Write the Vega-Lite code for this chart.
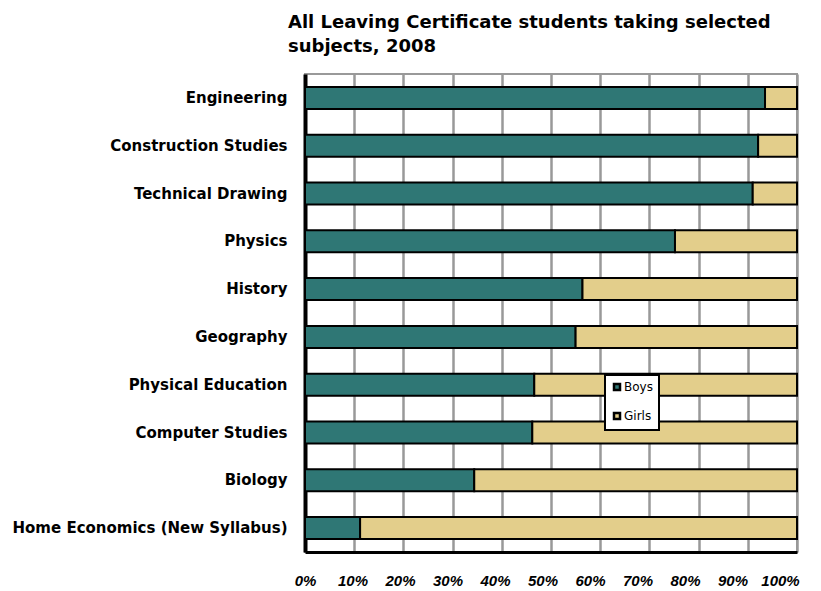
{
  "$schema": "https://vega.github.io/schema/vega-lite/v6.json",
  "autosize": {"type": "none"},
  "padding": {"left": 305, "top": 74, "right": 24, "bottom": 39},
  "width": 492,
  "height": 478,
  "background": "white",
  "title": {
    "text": ["All Leaving Certificate students taking selected", "subjects, 2008"],
    "anchor": "start",
    "frame": "group",
    "dx": -17,
    "offset": 18,
    "font": "DejaVu Sans",
    "fontSize": 18,
    "fontWeight": "bold",
    "lineHeight": 24,
    "color": "black"
  },
  "config": {
    "view": {"stroke": "#999999", "strokeWidth": 2},
    "font": "DejaVu Sans"
  },
  "data": {
    "values": [
      {"subject": "Engineering", "sex": "Boys", "pct": 93.5},
      {"subject": "Engineering", "sex": "Girls", "pct": 6.5},
      {"subject": "Construction Studies", "sex": "Boys", "pct": 92.1},
      {"subject": "Construction Studies", "sex": "Girls", "pct": 7.9},
      {"subject": "Technical Drawing", "sex": "Boys", "pct": 91.0},
      {"subject": "Technical Drawing", "sex": "Girls", "pct": 9.0},
      {"subject": "Physics", "sex": "Boys", "pct": 75.2},
      {"subject": "Physics", "sex": "Girls", "pct": 24.8},
      {"subject": "History", "sex": "Boys", "pct": 56.4},
      {"subject": "History", "sex": "Girls", "pct": 43.6},
      {"subject": "Geography", "sex": "Boys", "pct": 55.0},
      {"subject": "Geography", "sex": "Girls", "pct": 45.0},
      {"subject": "Physical Education", "sex": "Boys", "pct": 46.6},
      {"subject": "Physical Education", "sex": "Girls", "pct": 53.4},
      {"subject": "Computer Studies", "sex": "Boys", "pct": 46.2},
      {"subject": "Computer Studies", "sex": "Girls", "pct": 53.8},
      {"subject": "Biology", "sex": "Boys", "pct": 34.4},
      {"subject": "Biology", "sex": "Girls", "pct": 65.6},
      {"subject": "Home Economics (New Syllabus)", "sex": "Boys", "pct": 11.2},
      {"subject": "Home Economics (New Syllabus)", "sex": "Girls", "pct": 88.8}
    ]
  },
  "mark": {"type": "bar", "stroke": "black", "strokeWidth": 2},
  "encoding": {
    "y": {
      "field": "subject",
      "type": "nominal",
      "sort": null,
      "scale": {"paddingInner": 0.54, "paddingOuter": 0.27},
      "axis": {
        "title": null,
        "ticks": false,
        "labelPadding": 18,
        "labelFontSize": 15,
        "labelFontWeight": "bold",
        "labelColor": "black",
        "labelFont": "DejaVu Sans",
        "labelLimit": 400,
        "domainColor": "black",
        "domainWidth": 4,
        "grid": false
      }
    },
    "x": {
      "field": "pct",
      "type": "quantitative",
      "stack": "normalize",
      "scale": {"domain": [0, 1]},
      "axis": {
        "title": null,
        "format": ".0%",
        "values": [0, 0.1, 0.2, 0.3, 0.4, 0.5, 0.6, 0.7, 0.8, 0.9, 1],
        "ticks": false,
        "labelPadding": 21,
        "labelFontSize": 15,
        "labelFontWeight": "bold",
        "labelFontStyle": "italic",
        "labelColor": "black",
        "labelFont": "Liberation Sans",
        "labelFlush": false,
        "labelOffset": {"expr": "-17 * datum.value"},
        "domainColor": "black",
        "domainWidth": 3,
        "grid": true,
        "gridColor": "#999999",
        "gridWidth": 2.5,
        "gridOpacity": 1
      }
    },
    "color": {
      "field": "sex",
      "type": "nominal",
      "scale": {"domain": ["Boys", "Girls"], "range": ["#2F7775", "#E3CE8B"]},
      "legend": {
        "title": null,
        "orient": "none",
        "legendX": 300,
        "legendY": 301,
        "symbolType": "square",
        "symbolSize": 36,
        "symbolStrokeColor": "black",
        "symbolStrokeWidth": 2.5,
        "labelFontSize": 12,
        "labelFont": "DejaVu Sans",
        "labelColor": "black",
        "labelOffset": 1,
        "rowPadding": 13,
        "padding": 6,
        "fillColor": "white",
        "strokeColor": "black",
        "encode": {"legend": {"update": {"strokeWidth": {"value": 2}}}}
      }
    },
    "order": {"field": "sex", "sort": "ascending"}
  }
}
